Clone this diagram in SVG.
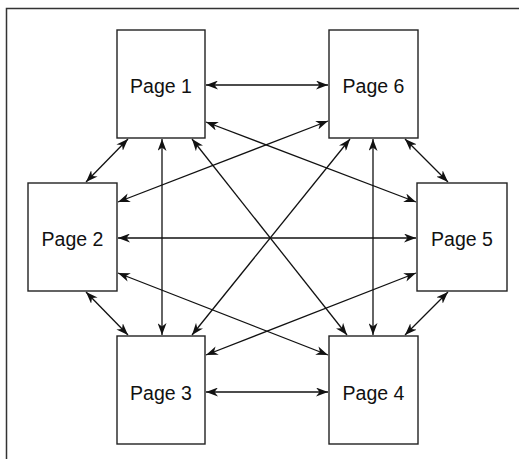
<svg xmlns="http://www.w3.org/2000/svg" width="519" height="459" viewBox="0 0 519 459">
<style>
.box{fill:#fff;stroke:#222;stroke-width:1.4}
.lbl{font-family:"Liberation Sans",Arial,sans-serif;font-size:19.5px;fill:#111;text-anchor:middle}
.c line{stroke:#111;stroke-width:1.3;marker-start:url(#ah);marker-end:url(#ah)}
</style>
<defs>
<marker id="ah" viewBox="0 0 12 9" refX="12" refY="4.5" markerWidth="12" markerHeight="9" markerUnits="userSpaceOnUse" orient="auto-start-reverse">
<path d="M0,0 L12,4.5 L0,9 L3.5,4.5 z" fill="#111"/>
</marker>
</defs>
<rect width="519" height="459" fill="#fff"/>
<path d="M6.5,459 V8.5 H519" fill="none" stroke="#333" stroke-width="1.5"/>
<g class="c" id="connectors">
<line x1="206" y1="85" x2="328" y2="85"/>
<line x1="206" y1="122" x2="416" y2="202"/>
<line x1="328" y1="121" x2="118" y2="202"/>
<line x1="128" y1="139" x2="86" y2="182"/>
<line x1="162" y1="139" x2="162" y2="335"/>
<line x1="192" y1="139" x2="347" y2="335"/>
<line x1="350" y1="139" x2="192" y2="335"/>
<line x1="373" y1="139" x2="373" y2="335"/>
<line x1="405" y1="139" x2="448" y2="182"/>
<line x1="118" y1="238" x2="416" y2="238"/>
<line x1="118" y1="273" x2="328" y2="355"/>
<line x1="416" y1="273" x2="206" y2="355"/>
<line x1="86" y1="292" x2="128" y2="335"/>
<line x1="448" y1="292" x2="405" y2="335"/>
<line x1="206" y1="392" x2="328" y2="392"/>
</g>
<g id="page1"><rect class="box" x="117" y="30" width="88" height="108"/><text class="lbl" x="161" y="93">Page 1</text></g>
<g id="page6"><rect class="box" x="329" y="30" width="89" height="108"/><text class="lbl" x="373.5" y="93">Page 6</text></g>
<g id="page2"><rect class="box" x="28" y="183" width="89" height="108"/><text class="lbl" x="72.5" y="246">Page 2</text></g>
<g id="page5"><rect class="box" x="417" y="183" width="90" height="108"/><text class="lbl" x="462" y="246">Page 5</text></g>
<g id="page3"><rect class="box" x="117" y="336" width="88" height="108"/><text class="lbl" x="161" y="400">Page 3</text></g>
<g id="page4"><rect class="box" x="329" y="336" width="89" height="108"/><text class="lbl" x="373.5" y="400">Page 4</text></g>
</svg>
